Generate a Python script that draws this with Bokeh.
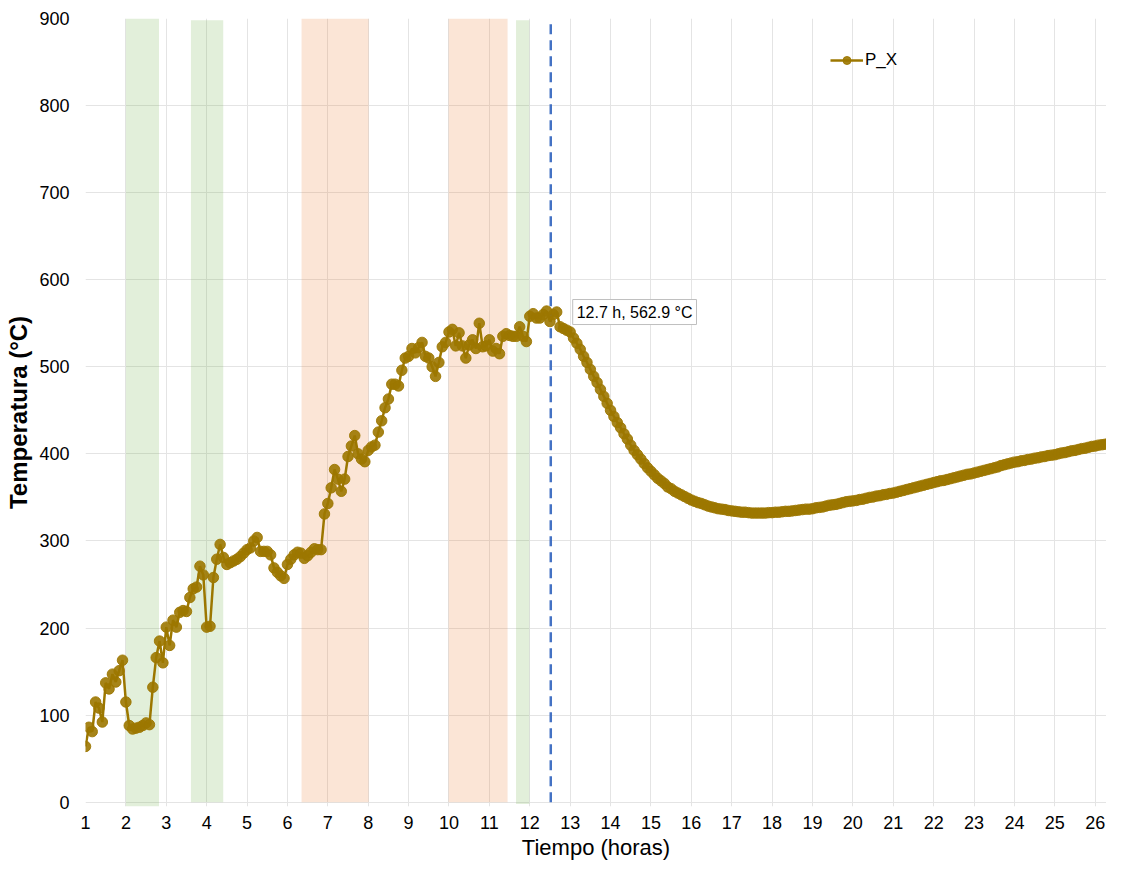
from bokeh.plotting import figure
from bokeh.models import FixedTicker, Label, ColumnDataSource
from bokeh.embed import file_html
from bokeh.resources import INLINE

# ---------------- data ----------------
series_name = "P_X"
t_start_h = 1.0          # first sample (hours)
t_step_h = 5 / 60        # sampling interval: 5 minutes

temps = [
    64, 86, 81, 115, 108, 92, 137, 130, 147, 138, 151, 163,            # 1.0 - 1.92
    115, 88, 84, 85, 86, 88, 91, 89, 132, 166, 185, 160,               # 2.0 - 2.92
    201, 180, 209, 201, 218, 220, 219, 235, 245, 247, 271, 261,        # 3.0 - 3.92
    201, 202, 258, 279, 296, 281, 273, 275, 277, 279, 282, 286,        # 4.0 - 4.92
    290, 292, 300, 304, 288, 288, 288, 284, 269, 264, 260, 257,        # 5.0 - 5.92
    273, 279, 284, 287, 286, 280, 283, 287, 291, 290, 290, 331,        # 6.0 - 6.92
    343, 361, 382, 371, 357, 371, 397, 409, 421, 400, 394, 391,        # 7.0 - 7.92
    404, 408, 410, 425, 438, 453, 463, 480, 480, 478, 496, 510,        # 8.0 - 8.92
    512, 521, 516, 522, 528, 512, 510, 500, 489, 505, 523, 528,        # 9.0 - 9.92
    540, 543, 524, 539, 524, 510, 525, 531, 521, 550, 523, 524,        # 10.0 - 10.92
    531, 518, 521, 515, 535, 538, 536, 535, 535, 546, 535, 529,        # 11.0 - 11.92
    558, 561, 556, 556, 560, 564, 552, 560, 562.9, 546, 544, 542,      # 12.0 - 12.92
    540, 533, 527, 520, 512, 505, 497, 489, 482, 474, 466, 458,        # 13.0 - 13.92
    450, 443, 436, 430, 423, 417, 410, 404, 399, 394, 389, 384,        # 14.0 - 14.92
    380, 376, 372, 369, 366, 362, 360, 357, 355, 353, 351, 349,        # 15.0 - 15.92
    347, 345.5, 344, 343, 341.5, 340, 339, 338, 337, 336.5, 336, 335,  # 16.0 - 16.92
    334.5, 334, 333.5, 333, 333, 332.5, 332, 332, 332, 332, 332, 332.5,  # 17.0 - 17.92
    332.5, 333, 333, 333.5, 334, 334, 334.5, 335, 335.5, 336, 336.5, 336.5,  # 18.0 - 18.92
    337, 338, 338.5, 339, 340, 341, 341.5, 342, 343, 344, 345, 345.5,  # 19.0 - 19.92
    346, 346.5, 347.5, 348, 349, 350, 350.5, 351.5, 352, 353, 353.5, 354.5,  # 20.0 - 20.92
    355, 356, 357, 358, 359, 360, 361, 362, 363, 364, 365, 366,        # 21.0 - 21.92
    367, 368, 369, 369.5, 370.5, 371.5, 372.5, 373.5, 374.5, 375.5, 376.5, 377,  # 22.0 - 22.92
    378, 379, 380, 381, 382, 383, 384, 385, 386.5, 387.5, 388.5, 389.5,  # 23.0 - 23.92
    390.5, 391, 392, 392.5, 393.5, 394, 395, 395.5, 396.5, 397, 398, 398.5,  # 24.0 - 24.92
    399, 400, 401, 401.5, 402.5, 403.5, 404, 405, 406, 406.5, 407.5, 408.5,  # 25.0 - 25.92
    409, 410, 410.5, 411, 412, 412.5,                                  # 26.0 - 26.42
]
times = [t_start_h + i * t_step_h for i in range(len(temps))]

# shaded periods (hours)
band_start = [2.0, 3.61, 6.35, 9.99, 11.66]
band_end = [2.82, 4.41, 8.01, 11.45, 11.99]
band_bottom = [-5, 0, 0, 0, -2]
band_top = [900, 898, 900, 900, 898]
band_kind = ["green", "green", "orange", "orange", "green"]

marker_time_h = [12.52]          # dashed reference line
annot_index = 140                # annotated sample (12.7 h)

x_ticks = list(range(1, 27))
y_ticks = list(range(0, 1000, 100))

# ---------------- styles ----------------
FONT = "Liberation Sans"
SERIES_COLOR = "#9C7700"
band_colors = {"green": "#70AD47", "orange": "#ED7D31"}

p = figure(width=1106, height=862, output_backend="svg", toolbar_location=None,
           x_range=(1, 26.28), y_range=(-5, 900),
           min_border_left=85, min_border_top=18, min_border_right=0, min_border_bottom=54)
p.outline_line_color = None
p.background_fill_color = "white"

band_src = ColumnDataSource(dict(
    left=band_start, right=band_end, bottom=band_bottom, top=band_top,
    color=[band_colors[k] for k in band_kind]))
p.quad(left="left", right="right", bottom="bottom", top="top", source=band_src,
       fill_color="color", fill_alpha=0.2, line_color=None)

p.segment(x0=marker_time_h, x1=marker_time_h, y0=[0] * len(marker_time_h), y1=[900] * len(marker_time_h),
          line_color="#4472C4", line_width=2.5, line_dash="10 6")

src = ColumnDataSource(dict(t=times, v=temps))
p.line("t", "v", source=src, line_color=SERIES_COLOR, line_width=2.5, legend_label=series_name)
p.scatter("t", "v", source=src, size=10.5, fill_color=SERIES_COLOR, line_color=SERIES_COLOR,
          fill_alpha=0.9, line_alpha=0.9, legend_label=series_name)

# annotation
at, av = times[annot_index], temps[annot_index]
p.add_layout(Label(x=at, y=av, text=f"{at:.1f} h, {av:.1f} \u00b0C", x_offset=16,
                   text_baseline="middle", text_font=FONT, text_font_size="16px", text_color="#000000",
                   background_fill_color="white", border_line_color="#BFBFBF", border_line_width=1,
                   padding=4))

# axes
for ax in (p.xaxis[0], p.yaxis[0]):
    ax.axis_line_color = None
    ax.major_tick_line_color = None
    ax.minor_tick_line_color = None
    ax.major_label_text_font = FONT
    ax.major_label_text_color = "#000000"
    ax.axis_label_text_font = FONT
    ax.axis_label_text_color = "#000000"
    ax.major_tick_out = 0
    ax.major_tick_in = 0

p.xaxis.ticker = FixedTicker(ticks=x_ticks)
p.yaxis.ticker = FixedTicker(ticks=y_ticks)
p.xaxis.axis_label = "Tiempo (horas)"
p.yaxis.axis_label = "Temperatura (\u00b0C)"
p.xaxis.axis_label_text_font_style = "normal"
p.yaxis.axis_label_text_font_style = "bold"
p.xaxis.axis_label_text_font_size = "22px"
p.yaxis.axis_label_text_font_size = "24px"
p.xaxis.major_label_text_font_size = "18px"
p.yaxis.major_label_text_font_size = "18px"
p.xaxis.major_label_standoff = 9
p.xaxis.axis_label_standoff = 3
p.yaxis.major_label_standoff = 16
p.yaxis.axis_label_standoff = 4

p.xgrid.ticker = FixedTicker(ticks=x_ticks)
p.ygrid.ticker = FixedTicker(ticks=y_ticks)
p.xgrid.grid_line_color = "#E4E4E4"
p.ygrid.grid_line_color = "#E4E4E4"

# legend
lg = p.legend[0]
lg.location = (745, 736)
lg.border_line_color = None
lg.background_fill_alpha = 0
lg.padding = 0
lg.margin = 0
lg.glyph_width = 33
lg.glyph_height = 20
lg.label_height = 20
lg.label_standoff = 2
lg.label_text_font = FONT
lg.label_text_font_size = "17px"
lg.label_text_color = "#000000"

open("out.html", "w").write(file_html(p, INLINE))
